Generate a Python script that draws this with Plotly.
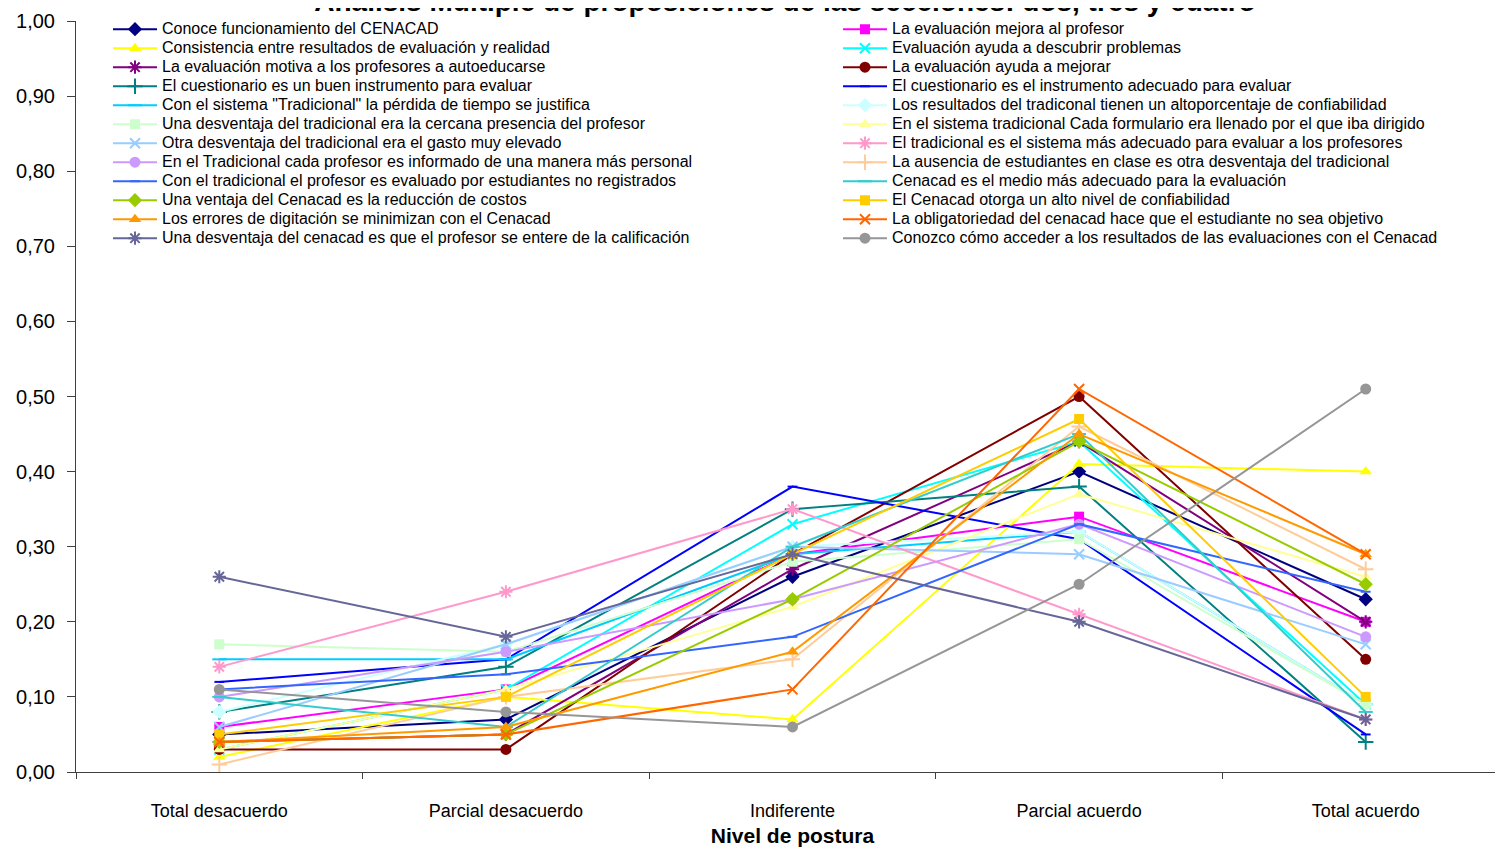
import plotly.graph_objects as go

categories = ["Total desacuerdo", "Parcial desacuerdo", "Indiferente", "Parcial acuerdo", "Total acuerdo"]

names = [
    "Conoce funcionamiento del CENACAD",
    "La evaluación mejora al profesor",
    "Consistencia entre resultados de evaluación y realidad",
    "Evaluación ayuda a descubrir problemas",
    "La evaluación motiva a los profesores a autoeducarse",
    "La evaluación ayuda a mejorar",
    "El cuestionario es un buen instrumento para evaluar",
    "El cuestionario es el instrumento adecuado para evaluar",
    "Con el sistema \"Tradicional\" la pérdida de tiempo se justifica",
    "Los resultados del tradiconal tienen un altoporcentaje de confiabilidad",
    "Una desventaja del tradicional era la cercana presencia del profesor",
    "En el sistema tradicional Cada formulario era llenado por el que iba dirigido",
    "Otra desventaja del tradicional era el gasto muy elevado",
    "El tradicional es el sistema más adecuado para evaluar a los profesores",
    "En el Tradicional cada profesor es informado de una manera más personal",
    "La ausencia de estudiantes en clase es otra desventaja del tradicional",
    "Con el tradicional el profesor es evaluado por estudiantes no registrados",
    "Cenacad es el medio más adecuado para la evaluación",
    "Una ventaja del Cenacad es la reducción de costos",
    "El Cenacad otorga un alto nivel de confiabilidad",
    "Los errores de digitación se minimizan con el Cenacad",
    "La obligatoriedad del cenacad hace que el estudiante no sea objetivo",
    "Una desventaja del cenacad es que el profesor se entere de la calificación",
    "Conozco cómo acceder a los resultados de las evaluaciones con el Cenacad",
]

conoce = [0.05, 0.07, 0.26, 0.40, 0.23]
mejora_profesor = [0.06, 0.11, 0.29, 0.34, 0.20]
consistencia = [0.02, 0.10, 0.07, 0.41, 0.40]
descubrir = [0.03, 0.11, 0.33, 0.44, 0.09]
motiva = [0.04, 0.05, 0.27, 0.44, 0.20]
ayuda_mejorar = [0.03, 0.03, 0.29, 0.50, 0.15]
buen_instrumento = [0.08, 0.14, 0.35, 0.38, 0.04]
instrumento_adecuado = [0.12, 0.15, 0.38, 0.31, 0.05]
perdida_tiempo = [0.15, 0.15, 0.29, 0.32, 0.09]
resultados_trad = [0.08, 0.17, 0.30, 0.32, 0.09]
cercana_presencia = [0.17, 0.16, 0.28, 0.31, 0.09]
formulario = [0.03, 0.11, 0.22, 0.37, 0.26]
gasto = [0.06, 0.17, 0.30, 0.29, 0.17]
trad_adecuado = [0.14, 0.24, 0.35, 0.21, 0.07]
informado = [0.10, 0.16, 0.23, 0.33, 0.18]
ausencia = [0.01, 0.10, 0.15, 0.46, 0.27]
no_registrados = [0.11, 0.13, 0.18, 0.33, 0.24]
cenacad_medio = [0.10, 0.06, 0.30, 0.45, 0.08]
costos = [0.04, 0.05, 0.23, 0.44, 0.25]
confiabilidad = [0.05, 0.10, 0.29, 0.47, 0.10]
errores = [0.04, 0.06, 0.16, 0.45, 0.29]
obligatoriedad = [0.04, 0.05, 0.11, 0.51, 0.29]
entere = [0.26, 0.18, 0.29, 0.20, 0.07]
conozco = [0.11, 0.08, 0.06, 0.25, 0.51]

values = [conoce, mejora_profesor, consistencia, descubrir, motiva, ayuda_mejorar,
          buen_instrumento, instrumento_adecuado, perdida_tiempo, resultados_trad,
          cercana_presencia, formulario, gasto, trad_adecuado, informado, ausencia,
          no_registrados, cenacad_medio, costos, confiabilidad, errores,
          obligatoriedad, entere, conozco]

colors = ["#000080", "#FF00FF", "#FFFF00", "#00FFFF", "#800080", "#800000",
          "#008080", "#0000FF", "#00CCFF", "#CCFFFF", "#CCFFCC", "#FFFF99",
          "#99CCFF", "#FF99CC", "#CC99FF", "#FFCC99", "#3366FF", "#33CCCC",
          "#99CC00", "#FFCC00", "#FF9900", "#FF6600", "#666699", "#969696"]

symbol_cycle = ["diamond", "square", "triangle-up", "x-thin-open", "asterisk-open",
                "circle", "cross-thin-open", "line-ew-open", "line-ew-open"]
size_cycle = [11, 10, 11, 10, 11, 11, 11, 7, 10]

LEGEND_TEXT_PX = 16

fig = go.Figure()
for i, (n, v) in enumerate(zip(names, values)):
    sym = symbol_cycle[i % 9]
    sz = size_cycle[i % 9]
    c = colors[i]
    open_sym = sym.endswith("-open")
    fig.add_trace(go.Scatter(
        x=categories, y=v,
        name=f'<span style="font-size:{LEGEND_TEXT_PX}px">{n}</span>',
        mode="lines+markers",
        legend="legend" if i % 2 == 0 else "legend2",
        line=dict(color=c, width=2),
        marker=dict(symbol=sym, size=sz, color=c,
                    line=dict(color=c, width=2 if open_sym else 0)),
    ))

font_family = "Liberation Sans, Arial, sans-serif"
legend_common = dict(orientation="v", xanchor="left", yanchor="top",
                     font=dict(size=12, family=font_family, color="black"),
                     bgcolor="rgba(0,0,0,0)", itemwidth=44, tracegroupgap=0,
                     borderwidth=0)

fig.update_layout(
    width=1503, height=847,
    margin=dict(l=68, r=2, t=11, b=83),
    paper_bgcolor="white", plot_bgcolor="white",
    separators=",.",
    font=dict(family=font_family, color="black", size=16),
    title=dict(text="<b>Análisis Múltiple de proposiciones de las secciones: dos, tres y cuatro</b>",
               x=777 / 1503, xanchor="center", xref="container",
               y=1.0 - 3 / 847, yanchor="bottom", yref="container",
               font=dict(size=28, family=font_family, color="black")),
    showlegend=True,
    legend=dict(x=(100 - 68) / 1433, y=1.0084, **legend_common),
    legend2=dict(x=(830 - 68) / 1433, y=1.0084, **legend_common),
    xaxis=dict(type="category", range=[-0.5, 4.5], showgrid=False,
               showline=True, linecolor="#404040", linewidth=1,
               ticks="outside", tickson="boundaries", ticklen=6, tickcolor="#404040",
               tickfont=dict(size=18), ticklabelstandoff=22,
               title=dict(text="<b>Nivel de postura</b>", font=dict(size=21), standoff=8)),
    yaxis=dict(range=[0, 1.0], dtick=0.1, tickformat=".2f", showgrid=False,
               showline=True, linecolor="#404040", linewidth=1,
               ticks="outside", ticklen=8, tickcolor="#404040",
               tickfont=dict(size=20), ticklabelstandoff=8, zeroline=False),
)

fig.write_html("out.html")
